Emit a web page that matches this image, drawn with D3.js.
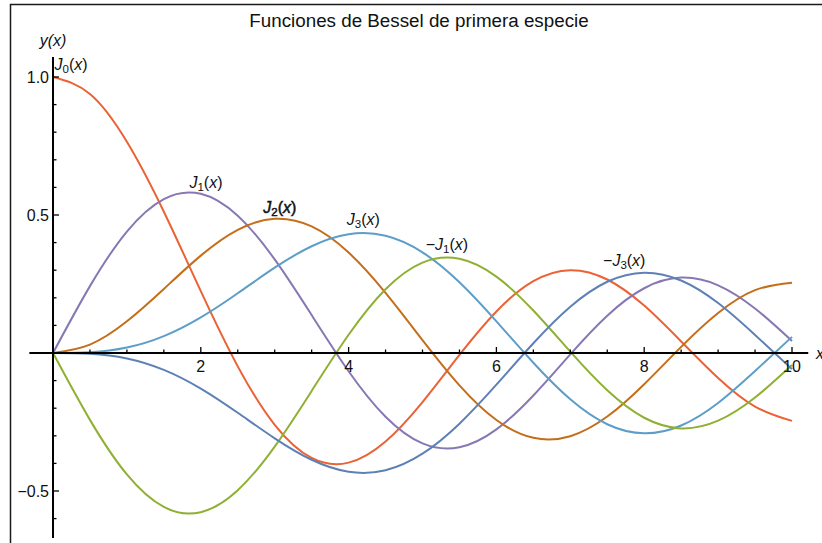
<!DOCTYPE html>
<html>
<head>
<meta charset="utf-8">
<script src="https://cdn.jsdelivr.net/npm/d3@7"></script>
<style>
  html, body { margin: 0; padding: 0; background: #fff; }
  svg { display: block; font-family: "Liberation Sans", Arial, sans-serif; }
</style>
</head>
<body>
<svg id="chart" width="822" height="543"></svg>
<script>
// Sample abscissae (step 0.5) for the tabulated Bessel functions
const xs   = [0, 0.5, 1, 1.5, 2, 2.5, 3, 3.5, 4, 4.5, 5, 5.5, 6, 6.5, 7, 7.5, 8, 8.5, 9, 9.5, 10];
const j0   = [1, 0.9385, 0.7652, 0.5118, 0.2239, -0.0484, -0.2601, -0.3801, -0.3971, -0.3205, -0.1776, -0.0068, 0.1506, 0.2601, 0.3001, 0.2663, 0.1717, 0.0419, -0.0903, -0.1939, -0.2459];
const j1   = [0, 0.2423, 0.4401, 0.5579, 0.5767, 0.4971, 0.3391, 0.1374, -0.0660, -0.2311, -0.3276, -0.3414, -0.2767, -0.1538, -0.0047, 0.1352, 0.2346, 0.2731, 0.2453, 0.1613, 0.0435];
const j2   = [0, 0.0306, 0.1149, 0.2321, 0.3528, 0.4461, 0.4861, 0.4586, 0.3641, 0.2178, 0.0466, -0.1173, -0.2429, -0.3074, -0.3014, -0.2303, -0.1130, 0.0223, 0.1448, 0.2279, 0.2546];
const j3   = [0, 0.0026, 0.0196, 0.0610, 0.1289, 0.2166, 0.3091, 0.3868, 0.4302, 0.4247, 0.3648, 0.2561, 0.1148, -0.0353, -0.1676, -0.2581, -0.2911, -0.2626, -0.1809, -0.0653, 0.0584];
const negJ1 = [0, -0.2423, -0.4401, -0.5579, -0.5767, -0.4971, -0.3391, -0.1374, 0.0660, 0.2311, 0.3276, 0.3414, 0.2767, 0.1538, 0.0047, -0.1352, -0.2346, -0.2731, -0.2453, -0.1613, -0.0435];
const negJ3 = [0, -0.0026, -0.0196, -0.0610, -0.1289, -0.2166, -0.3091, -0.3868, -0.4302, -0.4247, -0.3648, -0.2561, -0.1148, 0.0353, 0.1676, 0.2581, 0.2911, 0.2626, 0.1809, 0.0653, -0.0584];

const xMajorTicks = [2, 4, 6, 8, 10];
const yMajorTicks = [-0.5, 0.5, 1.0];

// Series: drawing order, colour, label (prefix, subscript) and label anchor in data units
const series = [
  { name: "J0",  values: j0,    color: "#EB6235", sign: "",  sub: "0", lx: 0.02, ly: 1.025, anchor: "start" },
  { name: "J1",  values: j1,    color: "#8778B3", sign: "",  sub: "1", lx: 2.07, ly: 0.598, anchor: "middle" },
  { name: "J2",  values: j2,    color: "#C56E1A", sign: "",  sub: "2", lx: 3.07, ly: 0.508, anchor: "middle", bold: true },
  { name: "J3",  values: j3,    color: "#5D9EC7", sign: "",  sub: "3", lx: 4.2, ly: 0.462, anchor: "middle" },
  { name: "-J1", values: negJ1, color: "#8FB032", sign: "\u2212", sub: "1", lx: 5.33, ly: 0.372, anchor: "middle" },
  { name: "-J3", values: negJ3, color: "#5E81B5", sign: "\u2212", sub: "3", lx: 7.73, ly: 0.317, anchor: "middle" }
];

const svg = d3.select("#chart");
const W = 822, H = 543;

// Outer frame (left and top edges visible)
svg.append("path")
  .attr("d", `M10.5,${H} L10.5,4.5 L${W},4.5`)
  .attr("fill", "none").attr("stroke", "#1a1a1a").attr("stroke-width", 1.5);

const x = d3.scaleLinear().domain([0, 10]).range([53, 792]);
const y = d3.scaleLinear().domain([0, 1]).range([353, 77]);

// Title
svg.append("text")
  .attr("x", 419).attr("y", 27)
  .attr("text-anchor", "middle")
  .attr("font-size", 18.8)
  .attr("fill", "#111")
  .text("Funciones de Bessel de primera especie");

// Curves
const line = d3.line()
  .x((d, i) => x(xs[i]))
  .y(d => y(d))
  .curve(d3.curveNatural);

svg.append("g").selectAll("path")
  .data(series)
  .join("path")
  .attr("d", s => line(s.values))
  .attr("fill", "none")
  .attr("stroke", s => s.color)
  .attr("stroke-width", 2);

// X axis (ticks drawn upward)
const xAxisG = svg.append("g").attr("transform", `translate(0,${y(0)})`);
xAxisG.append("line")
  .attr("x1", x(-0.32)).attr("x2", x(10.22))
  .attr("stroke", "#000").attr("stroke-width", 2);
const xMinor = d3.range(1, 21).map(i => i * 0.5).filter(v => !xMajorTicks.includes(v));
xAxisG.selectAll("line.minor").data(xMinor).join("line")
  .attr("class", "minor")
  .attr("x1", d => x(d)).attr("x2", d => x(d))
  .attr("y1", 0).attr("y2", -3.5)
  .attr("stroke", "#000").attr("stroke-width", 1.3);
xAxisG.selectAll("line.major").data(xMajorTicks).join("line")
  .attr("class", "major")
  .attr("x1", d => x(d)).attr("x2", d => x(d))
  .attr("y1", 0).attr("y2", -6)
  .attr("stroke", "#000").attr("stroke-width", 1.3);
xAxisG.selectAll("text.tick").data(xMajorTicks).join("text")
  .attr("class", "tick")
  .attr("x", d => x(d)).attr("y", 19)
  .attr("text-anchor", "middle")
  .attr("font-size", 16)
  .attr("fill", "#111")
  .text(d => d3.format("d")(d));
xAxisG.append("text")
  .attr("x", 816).attr("y", 6)
  .attr("font-size", 16).attr("font-style", "italic")
  .attr("fill", "#111")
  .text("x");

// Y axis (ticks drawn to the right)
const yAxisG = svg.append("g").attr("transform", `translate(${x(0)},0)`);
yAxisG.append("line")
  .attr("y1", 57).attr("y2", 538)
  .attr("stroke", "#000").attr("stroke-width", 2);
const yMinor = d3.range(-6, 11).map(i => i / 10).filter(v => v !== 0 && !yMajorTicks.some(t => Math.abs(t - v) < 1e-9));
yAxisG.selectAll("line.minor").data(yMinor).join("line")
  .attr("class", "minor")
  .attr("x1", 0).attr("x2", 3.5)
  .attr("y1", d => y(d)).attr("y2", d => y(d))
  .attr("stroke", "#000").attr("stroke-width", 1.3);
yAxisG.selectAll("line.major").data(yMajorTicks).join("line")
  .attr("class", "major")
  .attr("x1", 0).attr("x2", 6)
  .attr("y1", d => y(d)).attr("y2", d => y(d))
  .attr("stroke", "#000").attr("stroke-width", 1.3);
yAxisG.selectAll("text.tick").data(yMajorTicks).join("text")
  .attr("class", "tick")
  .attr("x", -4).attr("y", d => y(d))
  .attr("dy", "0.36em")
  .attr("text-anchor", "end")
  .attr("font-size", 16)
  .attr("fill", "#111")
  .text(d => d3.format(".1f")(d).replace("-", "\u2212"));
yAxisG.append("text")
  .attr("x", 0).attr("y", 46)
  .attr("text-anchor", "middle")
  .attr("font-size", 16).attr("font-style", "italic")
  .attr("fill", "#111")
  .text("y(x)");

// Curve labels: J with subscript index and italic argument
const labels = svg.append("g");
series.forEach(s => {
  const t = labels.append("text")
    .attr("x", x(s.lx)).attr("y", y(s.ly))
    .attr("text-anchor", s.anchor)
    .attr("font-size", 16)
    .attr("fill", "#111");
  if (s.bold) t.attr("stroke", "#111").attr("stroke-width", 0.5);
  if (s.sign) t.append("tspan").text(s.sign);
  t.append("tspan").attr("font-style", "italic").text("J");
  t.append("tspan").attr("font-size", 11.5).attr("dy", 3).text(s.sub);
  t.append("tspan").attr("dy", -3).text("(");
  t.append("tspan").attr("font-style", "italic").text("x");
  t.append("tspan").text(")");
});
</script>
</body>
</html>
